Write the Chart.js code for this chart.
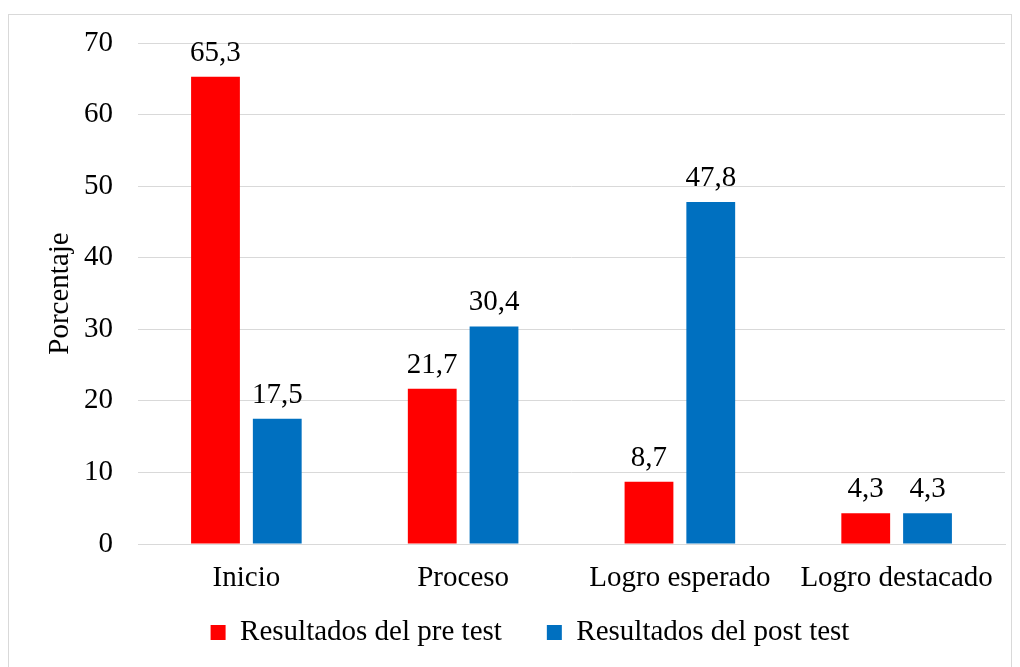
<!DOCTYPE html>
<html>
<head>
<meta charset="utf-8">
<script src="https://cdn.jsdelivr.net/npm/chart.js@4.4.1/dist/chart.umd.min.js"></script>
<style>
  html, body { margin: 0; padding: 0; background: #fff; }
  #frame { position: absolute; left: 8px; top: 14px; width: 1004px; height: 670px; border: 1px solid #d9d9d9; box-sizing: border-box; }
  #wrap { position: absolute; left: 0; top: 0; width: 1020px; height: 667px; }
</style>
</head>
<body>
<div id="frame"></div>
<div id="wrap"><canvas id="c" width="1020" height="667"></canvas></div>
<script>
/* niveles de logro: pre test vs post test */
const categories = ["Inicio", "Proceso", "Logro esperado", "Logro destacado"];
const preTest = [65.3, 21.7, 8.7, 4.3];
const postTest = [17.5, 30.4, 47.8, 4.3];
const yTicks = [0, 10, 20, 30, 40, 50, 60, 70];

const FONT = "'Liberation Serif', 'Times New Roman', serif";
const SIZE = 29;
const grid = "#d9d9d9";

const valueLabels = {
  id: "valueLabels",
  afterDatasetsDraw(chart) {
    const ctx = chart.ctx;
    ctx.save();
    ctx.font = SIZE + "px " + FONT;
    ctx.fillStyle = "#000";
    ctx.textAlign = "center";
    ctx.textBaseline = "alphabetic";
    chart.data.datasets.forEach((ds, i) => {
      chart.getDatasetMeta(i).data.forEach((bar, j) => {
        ctx.fillText(ds.data[j].toFixed(1).replace(".", ","), bar.x, bar.y - 16);
      });
    });
    ctx.restore();
  }
};

// legend padding is large to space the two items apart; pull the box up so rows sit right
const legendShift = {
  id: "legendShift",
  afterLayout(chart) { chart.legend.top -= 33; }
};

new Chart(document.getElementById("c"), {
  type: "bar",
  data: {
    labels: categories,
    datasets: [
      { label: "Resultados del pre test", data: preTest, backgroundColor: "#FF0000" },
      { label: "Resultados del post test", data: postTest, backgroundColor: "#0070C0" },
    ],
  },
  options: {
    responsive: false, animation: false,
    categoryPercentage: 0.57, barPercentage: 0.79,
    layout: { padding: { left: 55, right: 15, top: 43, bottom: 10 } },
    plugins: {
      legend: {
        position: "bottom", maxHeight: 51,
        labels: { font: { family: FONT, size: SIZE }, color: "#000", boxWidth: 15, boxHeight: 15, padding: 45 },
      },
      tooltip: { enabled: false },
    },
    scales: {
      x: {
        grid: { display: false, drawTicks: false },
        border: { color: grid },
        ticks: { font: { family: FONT, size: SIZE }, color: "#000", padding: 17 },
        afterFit: s => { s.height = 62; },
      },
      y: {
        min: 0, max: 70,
        afterBuildTicks: s => { s.ticks = yTicks.map(v => ({ value: v })); },
        grid: { color: grid, drawTicks: false },
        border: { display: false },
        ticks: { font: { family: FONT, size: SIZE }, color: "#000", padding: 25 },
        title: { display: true, text: "Porcentaje", font: { family: FONT, size: SIZE }, color: "#000", padding: { top: -12, bottom: 0 } },
        afterFit: s => { s.width = 83; },
      },
    },
  },
  plugins: [valueLabels, legendShift],
});
</script>
</body>
</html>
